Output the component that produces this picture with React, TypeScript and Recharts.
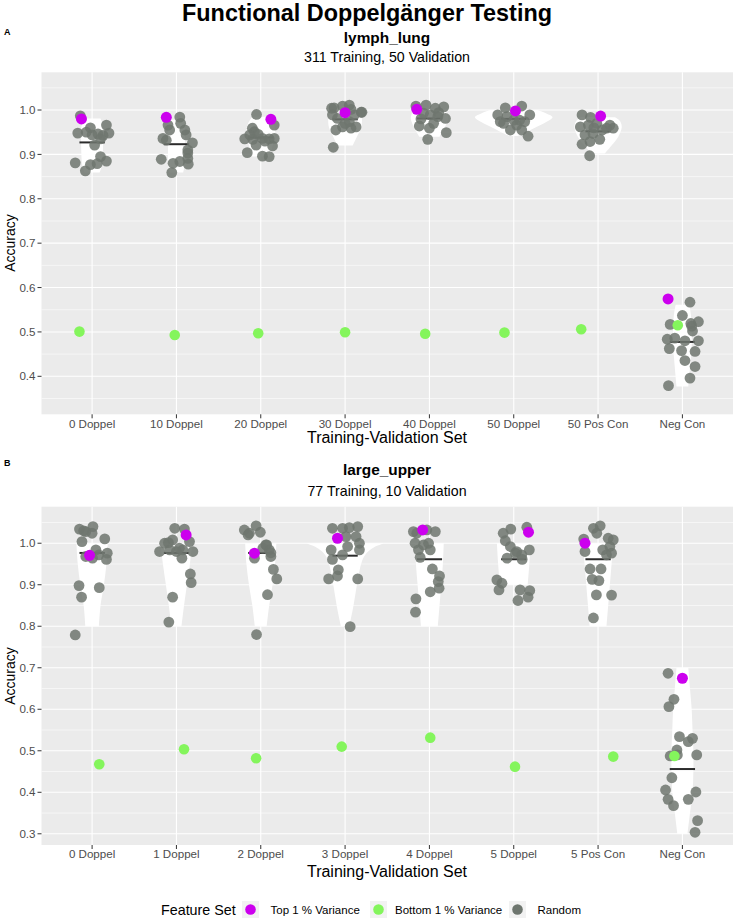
import React from 'react';
import { ScatterChart, Scatter, XAxis, YAxis, CartesianGrid, ReferenceArea, ReferenceLine } from 'recharts';

const FONT = '"Liberation Sans", Arial, Helvetica, sans-serif';

// ---------- data ----------
const lymphCategories = ['0 Doppel', '10 Doppel', '20 Doppel', '30 Doppel', '40 Doppel', '50 Doppel', '50 Pos Con', 'Neg Con'];
const upperCategories = ['0 Doppel', '1 Doppel', '2 Doppel', '3 Doppel', '4 Doppel', '5 Doppel', '5 Pos Con', 'Neg Con'];

// Random feature sets: [jitter offset from category, accuracy]
const lymphRandom: number[][][] = [
  [[-0.14, 0.987], [0.17, 0.966], [-0.02, 0.96], [-0.17, 0.948], [-0.07, 0.95], [0.0, 0.944], [0.07, 0.946], [0.13, 0.943], [0.2, 0.948], [0.03, 0.921], [0.1, 0.895], [0.17, 0.885], [-0.2, 0.881], [-0.02, 0.877], [0.06, 0.879], [-0.08, 0.863], [0.1, 0.935]],
  [[0.04, 0.984], [0.05, 0.97], [-0.1, 0.966], [-0.08, 0.955], [0.1, 0.955], [0.115, 0.944], [-0.16, 0.936], [-0.12, 0.932], [0.19, 0.926], [0.135, 0.91], [0.135, 0.903], [0.135, 0.891], [-0.18, 0.889], [-0.04, 0.88], [0.04, 0.884], [0.14, 0.878], [-0.055, 0.859]],
  [[-0.05, 0.99], [0.16, 0.966], [-0.1, 0.959], [-0.075, 0.951], [-0.13, 0.944], [-0.19, 0.935], [-0.095, 0.934], [0.02, 0.936], [0.1, 0.935], [0.16, 0.936], [-0.055, 0.921], [0.14, 0.919], [-0.16, 0.904], [0.02, 0.896], [0.1, 0.895], [-0.03, 0.945], [0.05, 0.93]],
  [[-0.13, 1.005], [-0.03, 1.009], [0.05, 1.011], [0.07, 1.0015], [0.19, 0.995], [0.11, 0.989], [0.2, 0.995], [-0.16, 1.004], [-0.15, 0.989], [-0.09, 0.981], [-0.11, 0.955], [-0.03, 0.962], [0.07, 0.959], [0.13, 0.962], [0.05, 0.974], [-0.14, 0.916], [0.0, 0.97]],
  [[-0.16, 1.009], [-0.04, 1.011], [0.07, 1.004], [0.17, 1.007], [-0.07, 0.993], [0.01, 0.989], [0.11, 0.994], [0.19, 0.981], [-0.12, 0.964], [0.0, 0.959], [0.05, 0.97], [0.2, 0.949], [-0.02, 0.934], [0.1, 0.985], [-0.1, 0.98]],
  [[-0.1, 1.005], [0.095, 1.009], [-0.19, 0.989], [-0.16, 0.974], [-0.08, 0.985], [0.0, 0.977], [0.19, 0.989], [-0.04, 0.955], [0.095, 0.955], [0.035, 0.966], [0.17, 0.941], [0.07, 0.977], [0.13, 0.974], [-0.12, 0.97]],
  [[-0.19, 0.989], [-0.09, 0.9835], [-0.21, 0.962], [-0.115, 0.966], [-0.015, 0.97], [0.14, 0.966], [0.18, 0.959], [0.1, 0.959], [-0.155, 0.944], [-0.06, 0.947], [0.02, 0.934], [-0.19, 0.923], [-0.095, 0.929], [-0.1, 0.897], [0.05, 0.955], [-0.05, 0.96]],
  [[0.09, 0.567], [0.0, 0.537], [-0.145, 0.517], [0.1, 0.519], [0.19, 0.523], [0.12, 0.502], [-0.18, 0.4835], [-0.09, 0.486], [0.03, 0.48], [0.19, 0.48], [-0.155, 0.4625], [-0.01, 0.458], [0.15, 0.456], [0.03, 0.4355], [0.15, 0.422], [0.09, 0.396], [-0.165, 0.379], [0.11, 0.513]],
];
const upperRandom: number[][][] = [
  [[-0.15, 1.034], [-0.075, 1.028], [0.01, 1.04], [0.0, 1.024], [-0.12, 1.004], [0.15, 1.0104], [0.045, 0.984], [-0.075, 0.968], [0.08, 0.972], [0.18, 0.976], [0.17, 0.961], [0.005, 0.964], [-0.155, 0.898], [0.085, 0.893], [-0.125, 0.87], [-0.2, 0.779], [-0.1, 1.03]],
  [[-0.02, 1.036], [0.095, 1.034], [-0.14, 1.0], [-0.045, 1.008], [0.035, 0.988], [0.155, 1.004], [0.195, 0.98], [-0.2, 0.98], [-0.08, 0.984], [0.075, 0.984], [0.065, 0.964], [-0.095, 1.0014], [0.165, 0.926], [0.175, 0.905], [-0.045, 0.87], [-0.09, 0.81], [0.0, 0.98]],
  [[-0.195, 1.032], [-0.135, 1.024], [-0.055, 1.042], [-0.005, 1.0265], [0.06, 0.996], [0.1, 0.984], [0.025, 0.988], [0.12, 0.968], [-0.075, 0.964], [0.15, 0.937], [0.19, 0.914], [0.08, 0.876], [-0.05, 0.78], [0.07, 0.996], [0.12, 0.977], [-0.15, 1.02]],
  [[-0.15, 1.036], [-0.03, 1.036], [0.05, 1.0376], [0.15, 1.04], [0.01, 1.016], [0.13, 1.016], [0.17, 1.0], [-0.165, 0.984], [0.03, 0.992], [0.17, 0.984], [-0.15, 0.961], [-0.03, 0.972], [-0.08, 0.936], [-0.09, 0.921], [-0.195, 0.914], [0.15, 0.914], [0.06, 0.799]],
  [[-0.19, 1.028], [-0.15, 1.024], [-0.03, 1.032], [0.07, 1.028], [-0.17, 1.0], [-0.13, 0.984], [-0.07, 0.996], [0.01, 0.984], [-0.01, 1.0], [-0.11, 0.966], [0.035, 0.938], [0.12, 0.921], [0.105, 0.9075], [0.115, 0.8916], [0.01, 0.883], [-0.16, 0.866], [-0.165, 0.834]],
  [[-0.035, 1.034], [0.155, 1.0385], [-0.125, 1.024], [-0.1, 1.006], [-0.04, 0.992], [0.035, 0.98], [0.095, 0.972], [0.185, 0.984], [-0.08, 0.964], [0.02, 0.976], [0.1, 0.961], [-0.2, 0.9116], [-0.14, 0.9036], [-0.175, 0.8875], [0.075, 0.8875], [0.19, 0.886], [0.17, 0.87], [0.05, 0.862]],
  [[-0.055, 1.036], [0.025, 1.042], [-0.015, 1.024], [0.12, 1.012], [0.18, 1.008], [0.14, 0.992], [-0.17, 1.01], [-0.155, 0.98], [0.055, 0.984], [0.16, 0.976], [0.1, 0.972], [-0.095, 0.938], [0.035, 0.938], [-0.07, 0.913], [0.01, 0.91], [-0.02, 0.8755], [0.16, 0.875], [-0.055, 0.82]],
  [[-0.17, 0.6867], [-0.1, 0.624], [-0.16, 0.6063], [-0.035, 0.534], [0.07, 0.522], [0.12, 0.53], [-0.065, 0.502], [-0.145, 0.4875], [0.17, 0.49], [-0.125, 0.435], [-0.2, 0.4055], [-0.17, 0.383], [-0.105, 0.3677], [0.07, 0.383], [0.16, 0.4007], [0.18, 0.3316], [0.15, 0.3036], [-0.06, 0.49]],
];

// Top 1 % variance (magenta)
const lymphTop = [0.98, 0.9835, 0.979, 0.994, 1.0015, 0.998, 0.9865, 0.5743];
const lymphTopJitter = [-0.126, -0.12, 0.12, 0, -0.15, 0.02, 0.03, -0.17];
const upperTop = [0.971, 1.02, 0.976, 1.012, 1.032, 1.0265, 1.0, 0.6747];
const upperTopJitter = [-0.03, 0.115, -0.075, -0.09, -0.08, 0.175, -0.155, 0];

// Bottom 1 % variance (green)
const lymphBottom = [0.5007, 0.493, 0.497, 0.4993, 0.496, 0.4985, 0.506, 0.515];
const lymphBottomJitter = [-0.15, -0.02, -0.03, 0, -0.05, -0.11, -0.2, -0.055];
const upperBottom = [0.4675, 0.5036, 0.482, 0.51, 0.5316, 0.4617, 0.486, 0.4875];
const upperBottomJitter = [0.085, 0.09, -0.055, -0.04, 0.01, 0.015, 0.18, -0.095];

// Median of random sets
const lymphMedian = [0.927, 0.923, 0.938, 0.979, 0.981, 0.98, 0.952, 0.4775];
const upperMedian = [0.9766, 0.9766, 0.9766, 0.97, 0.9614, 0.9614, 0.9614, 0.456];

// Violin profiles: [accuracy, half width in category units]
const lymphViolin: number[][][] = [
  [[0.859, 0.09], [0.88, 0.12], [0.92, 0.13], [0.95, 0.13], [0.97, 0.12], [0.981, 0.1]],
  [[0.859, 0.08], [0.88, 0.1], [0.91, 0.1], [0.94, 0.1], [0.96, 0.1], [0.978, 0.09]],
  [[0.895, 0.1], [0.92, 0.14], [0.95, 0.17], [0.97, 0.15], [0.985, 0.1]],
  [[0.92, 0.09], [0.94, 0.14], [0.96, 0.19], [0.98, 0.2], [0.993, 0.18]],
  [[0.94, 0.12], [0.96, 0.18], [0.98, 0.22], [0.995, 0.2], [1.0, 0.15]],
  [[0.9415, 0.05], [0.95, 0.15], [0.959, 0.24], [0.97, 0.36], [0.9835, 0.46], [0.993, 0.38], [1.0, 0.28]],
  [[0.902, 0.08], [0.92, 0.16], [0.94, 0.24], [0.96, 0.28], [0.975, 0.26], [0.9835, 0.2]],
  [[0.377, 0.07], [0.42, 0.09], [0.47, 0.11], [0.51, 0.11], [0.54, 0.1], [0.561, 0.08]],
];
const upperViolin: number[][][] = [
  [[0.8, 0.08], [0.85, 0.1], [0.9, 0.14], [0.95, 0.17], [1.0, 0.186]],
  [[0.8, 0.06], [0.85, 0.09], [0.9, 0.125], [0.95, 0.16], [1.0, 0.187]],
  [[0.8, 0.07], [0.85, 0.1], [0.9, 0.14], [0.95, 0.17], [1.0, 0.185]],
  [[0.8, 0.05], [0.85, 0.1], [0.9, 0.14], [0.95, 0.19], [0.975, 0.25], [0.99, 0.34], [1.0, 0.46]],
  [[0.8, 0.1], [0.85, 0.12], [0.9, 0.14], [0.95, 0.16], [1.0, 0.17]],
  [[0.9, 0.165], [0.95, 0.185], [1.0, 0.2]],
  [[0.8, 0.1], [0.85, 0.12], [0.9, 0.14], [0.95, 0.16], [1.0, 0.18]],
  [[0.3, 0.06], [0.35, 0.09], [0.4, 0.12], [0.45, 0.13], [0.5, 0.13], [0.55, 0.12], [0.6, 0.11], [0.65, 0.09], [0.7, 0.07]],
];

const lymphTicks = [0.4, 0.5, 0.6, 0.7, 0.8, 0.9, 1.0];
const lymphMinor = [0.35, 0.45, 0.55, 0.65, 0.75, 0.85, 0.95, 1.05];
const upperTicks = [0.3, 0.4, 0.5, 0.6, 0.7, 0.8, 0.9, 1.0];
const upperMinor = [0.35, 0.45, 0.55, 0.65, 0.75, 0.85, 0.95, 1.05];

// ---------- style ----------
const C_TOP = '#CC00EE';
const C_BOT = '#84F55C';
const C_RAND = '#6E766F';
const PANEL_BG = '#EBEBEB';

function curve(pts: number[][]) {
  let s = '';
  for (let i = 0; i < pts.length - 1; i++) {
    const p0 = pts[Math.max(i - 1, 0)], p1 = pts[i], p2 = pts[i + 1], p3 = pts[Math.min(i + 2, pts.length - 1)];
    const c1x = p1[0] + (p2[0] - p0[0]) / 6, c1y = p1[1] + (p2[1] - p0[1]) / 6;
    const c2x = p2[0] - (p3[0] - p1[0]) / 6, c2y = p2[1] - (p3[1] - p1[1]) / 6;
    s += `C${c1x},${c1y} ${c2x},${c2y} ${p2[0]},${p2[1]}`;
  }
  return s;
}

function violinShape(profile: number[][], half: number) {
  const vMin = profile[0][0];
  const vMax = profile[profile.length - 1][0];
  return (p: any) => {
    const { x, y, width, height } = p;
    if (![x, y, width, height].every((n) => typeof n === 'number' && isFinite(n))) return <g />;
    const cx = x + width / 2;
    const toY = (v: number) => y + (height * (vMax - v)) / (vMax - vMin);
    const right = profile.map(([v, w]) => [cx + (w / half) * (width / 2), toY(v)]);
    const left = profile.slice().reverse().map(([v, w]) => [cx - (w / half) * (width / 2), toY(v)]);
    const d = `M${right[0][0]},${right[0][1]}` + curve(right) + `L${left[0][0]},${left[0][1]}` + curve(left) + 'Z';
    return <path d={d} fill="#FFFFFF" stroke="none" />;
  };
}

const dot = (r: number, fill: string, op: number) => (p: any) => (
  <circle cx={p.cx} cy={p.cy} r={r} fill={fill} fillOpacity={op} />
);

interface PanelProps {
  top: number;
  height: number;
  marginTop: number;
  marginBottom: number;
  domain: number[];
  yTicks: number[];
  minor: number[];
  cats: string[];
  random: number[][][];
  topVals: number[];
  topJit: number[];
  botVals: number[];
  botJit: number[];
  medians: number[];
  violins: number[][][];
}

function Panel(props: PanelProps) {
  const { top, height, marginTop, marginBottom, domain, yTicks, minor, cats, random, topVals, topJit, botVals, botJit, medians, violins } = props;
  const greyData = random.flatMap((pts, i) => pts.map(([dx, v]) => ({ x: i + 1 + dx, y: v })));
  const topData = topVals.map((v, i) => ({ x: i + 1 + topJit[i], y: v }));
  const botData = botVals.map((v, i) => ({ x: i + 1 + botJit[i], y: v }));
  const xTicks = cats.map((_, i) => i + 1);
  return (
    <div style={{ position: 'absolute', left: 0, top, width: 734, height }}>
      <ScatterChart width={734} height={height} margin={{ top: marginTop, right: 1, bottom: marginBottom, left: 7.5 }}>
        <CartesianGrid fill={PANEL_BG} stroke="#FFFFFF" strokeWidth={1.1} horizontalValues={yTicks} verticalValues={xTicks} />
        <CartesianGrid stroke="#FFFFFF" strokeWidth={0.55} vertical={false} horizontalValues={minor} />
        <XAxis
          type="number"
          dataKey="x"
          domain={[0.4, 8.6]}
          ticks={xTicks}
          interval={0}
          allowDataOverflow
          height={30}
          axisLine={false}
          tickSize={4}
          tickMargin={1}
          tickLine={{ stroke: '#333333' }}
          tick={{ fill: '#4D4D4D', fontSize: 11.6, fontFamily: FONT }}
          tickFormatter={(v: number) => cats[Math.round(v) - 1] ?? ''}
        />
        <YAxis
          type="number"
          dataKey="y"
          domain={domain}
          ticks={yTicks}
          interval={0}
          allowDataOverflow
          width={34}
          axisLine={false}
          tickSize={4}
          tickMargin={2}
          tickLine={{ stroke: '#333333' }}
          tick={{ fill: '#4D4D4D', fontSize: 11.6, fontFamily: FONT }}
          tickFormatter={(v: number) => v.toFixed(1)}
        />
        {violins.map((prof, i) => {
          const half = Math.max(...prof.map((q) => q[1]));
          return (
            <ReferenceArea
              key={'v' + i}
              x1={i + 1 - half}
              x2={i + 1 + half}
              y1={prof[0][0]}
              y2={prof[prof.length - 1][0]}
              fill="#FFFFFF"
              fillOpacity={1}
              stroke="none"
              shape={violinShape(prof, half)}
            />
          );
        })}
        <Scatter data={greyData} isAnimationActive={false} shape={dot(5.4, C_RAND, 0.85)} />
        <Scatter data={topData} isAnimationActive={false} shape={dot(5.5, C_TOP, 1)} />
        <Scatter data={botData} isAnimationActive={false} shape={dot(5.3, C_BOT, 1)} />
        {medians.map((m, i) => (
          <ReferenceLine
            key={'m' + i}
            segment={[{ x: i + 1 - 0.15, y: m }, { x: i + 1 + 0.15, y: m }]}
            stroke="#2B2B2B"
            strokeWidth={2}
          />
        ))}
      </ScatterChart>
    </div>
  );
}

const abs = (style: React.CSSProperties): React.CSSProperties => ({ position: 'absolute', fontFamily: FONT, whiteSpace: 'nowrap', ...style });

function CenterText({ text, cy, cx, size, bold, color }: { text: string; cy: number; cx: number; size: number; bold?: boolean; color?: string }) {
  return (
    <div style={abs({ left: cx - 300, width: 600, top: cy - size / 2, height: size, lineHeight: size + 'px', fontSize: size, fontWeight: bold ? 700 : 400, textAlign: 'center', color: color || '#000' })}>
      {text}
    </div>
  );
}

function LegendDot({ left, color }: { left: number; color: string }) {
  return (
    <div style={abs({ left, top: 901, width: 17, height: 17, background: '#F2F2F2' })}>
      <svg width={17} height={17} style={{ display: 'block' }}>
        <circle cx={8.5} cy={8.5} r={5.3} fill={color} />
      </svg>
    </div>
  );
}

export default function App() {
  return (
    <div style={{ position: 'absolute', left: 0, top: 0, width: 734, height: 922, background: '#FFFFFF', overflow: 'hidden' }}>
      <Panel
        top={0}
        height={450}
        marginTop={72.3}
        marginBottom={5.7}
        domain={[0.3144, 1.085]}
        yTicks={lymphTicks}
        minor={lymphMinor}
        cats={lymphCategories}
        random={lymphRandom}
        topVals={lymphTop}
        topJit={lymphTopJitter}
        botVals={lymphBottom}
        botJit={lymphBottomJitter}
        medians={lymphMedian}
        violins={lymphViolin}
      />
      <Panel
        top={440}
        height={440}
        marginTop={66.7}
        marginBottom={5}
        domain={[0.273, 1.088]}
        yTicks={upperTicks}
        minor={upperMinor}
        cats={upperCategories}
        random={upperRandom}
        topVals={upperTop}
        topJit={upperTopJitter}
        botVals={upperBottom}
        botJit={upperBottomJitter}
        medians={upperMedian}
        violins={upperViolin}
      />

      <CenterText text="Functional Doppelgänger Testing" cx={367} cy={13.5} size={23.4} bold />
      <div style={abs({ left: 4, top: 28, fontSize: 9, fontWeight: 700, lineHeight: '9px' })}>A</div>
      <CenterText text="lymph_lung" cx={387} cy={37.5} size={15.4} bold />
      <CenterText text="311 Training, 50 Validation" cx={387} cy={57} size={14.2} />
      <CenterText text="Training-Validation Set" cx={387} cy={438} size={16} />
      <div style={abs({ left: 10 - 40, top: 243.3 - 7, width: 80, height: 14, lineHeight: '14px', fontSize: 14, textAlign: 'center', transform: 'rotate(-90deg)' })}>Accuracy</div>

      <div style={abs({ left: 4, top: 459, fontSize: 9, fontWeight: 700, lineHeight: '9px' })}>B</div>
      <CenterText text="large_upper" cx={387} cy={470} size={15.4} bold />
      <CenterText text="77 Training, 10 Validation" cx={387} cy={491.5} size={14.2} />
      <CenterText text="Training-Validation Set" cx={387} cy={872} size={16} />
      <div style={abs({ left: 10 - 40, top: 675.9 - 7, width: 80, height: 14, lineHeight: '14px', fontSize: 14, textAlign: 'center', transform: 'rotate(-90deg)' })}>Accuracy</div>

      <div style={abs({ left: 161, top: 902.5, fontSize: 14.3, lineHeight: '14px' })}>Feature Set</div>
      <LegendDot left={242} color={C_TOP} />
      <div style={abs({ left: 270.5, top: 904, fontSize: 11.5, lineHeight: '12px' })}>Top 1 % Variance</div>
      <LegendDot left={369.5} color={C_BOT} />
      <div style={abs({ left: 395, top: 904, fontSize: 11.5, lineHeight: '12px' })}>Bottom 1 % Variance</div>
      <LegendDot left={509} color={C_RAND} />
      <div style={abs({ left: 537.5, top: 904, fontSize: 11.5, lineHeight: '12px' })}>Random</div>
    </div>
  );
}
